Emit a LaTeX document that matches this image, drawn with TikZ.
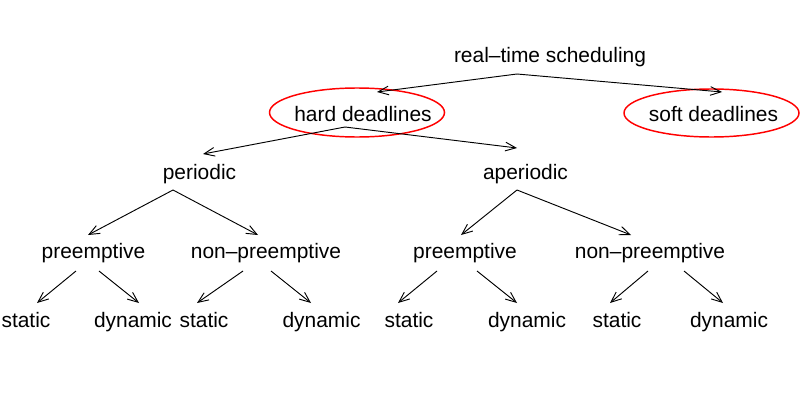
\documentclass[tikz,border=0pt]{standalone}
\usepackage{fontspec}
\setmainfont{Liberation Sans}
\usetikzlibrary{arrows.meta}
\usetikzlibrary{positioning}
\tikzset{lbl/.style={anchor=base, inner sep=0pt, font=\fontsize{15.7}{18}\selectfont},
	arr/.style={-{Straight Barb[angle=45:8.5pt]}, line width=0.7pt},
	ring/.style={draw=red, line width=1.1pt}}

\begin{document}
\begin{tikzpicture}[x=0.75pt, y=-0.75pt]
			\useasboundingbox (0,0) rectangle (812,410);
			\node[lbl] (root) 	at (550,63)		{real–time scheduling};
			\node[lbl] (hard) 	at (363,121)	{hard deadlines};
			\node[lbl] (soft) 	at (713.5,121)	{soft deadlines};
			\node[lbl] (per) 		at (199.5,179)	{periodic};
			\node[lbl] (aper) 	at (525.5,179)	{aperiodic};
			\node[lbl] (preA) 	at (93.5,258)	{preemptive};
			\node[lbl] (npreA) 	at (266,258)	{non–preemptive};
			\node[lbl] (preB) 	at (465,258)	{preemptive};
			\node[lbl] (npreB) 	at (650,258)	{non–preemptive};
			\node[lbl] (stA) 		at (26,327)		{static};
			\node[lbl] (dynA) 	at (133,327)	{dynamic};
			\node[lbl] (stB) 		at (204,327)	{static};
			\node[lbl] (dynB) 	at (321.5,327)	{dynamic};
			\node[lbl] (stC) 		at (409,327)	{static};
			\node[lbl] (dynC) 	at (527,327)	{dynamic};
			\node[lbl] (stD) 		at (617,327)	{static};
			\node[lbl] (dynD) 	at (729,327)	{dynamic};
			%
			\draw[ring] ([shift={(-6,-8.5)}]hard.base) ellipse [x radius=87.5, y radius=24.5];
			\draw[ring] ([shift={(-2,-8)}]soft.base) ellipse [x radius=87.5, y radius=24];
			%
			\draw[arr]	([shift={(-33,11)}]root.base)		to ([shift={(14,-29)}]hard.base);
			\draw[arr]	([shift={(-33,11)}]root.base)		to ([shift={(8.5,-29)}]soft.base);
			\draw[arr]	([shift={(-18,6)}]hard.base)		to ([shift={(3.5,-25)}]per.base);
			\draw[arr]	([shift={(-18,6)}]hard.base)		to ([shift={(-8.5,-31)}]aper.base);
			\draw[arr]	([shift={(-26.5,11)}]per.base)	to ([shift={(-5.5,-23)}]preA.base);
			\draw[arr]	([shift={(-26.5,11)}]per.base)	to ([shift={(-8,-23)}]npreA.base);
			\draw[arr]	([shift={(-8.5,11)}]aper.base)	to ([shift={(-4,-23)}]preB.base);
			\draw[arr]	([shift={(-8.5,11)}]aper.base)	to ([shift={(-19,-23)}]npreB.base);
			%
			\draw[arr]	([shift={(-17.5,13)}]preA.base)	to ([shift={(11,-24)}]stA.base);
			\draw[arr]	([shift={(5.5,13)}]preA.base)		to ([shift={(6,-24)}]dynA.base);
			\draw[arr]	([shift={(-23,13)}]npreA.base)	to ([shift={(-7,-24)}]stB.base);
			\draw[arr]	([shift={(5,13)}]npreA.base)		to ([shift={(-10.5,-24)}]dynB.base);
			\draw[arr]	([shift={(-28,13)}]preB.base)		to ([shift={(-11,-24)}]stC.base);
			\draw[arr]	([shift={(12,13)}]preB.base)		to ([shift={(-10,-24)}]dynC.base);
			\draw[arr]	([shift={(-2,13)}]npreB.base)		to ([shift={(-7,-24)}]stD.base);
			\draw[arr]	([shift={(34,13)}]npreB.base)		to ([shift={(-6,-24)}]dynD.base);
		\end{tikzpicture}
\end{document}
